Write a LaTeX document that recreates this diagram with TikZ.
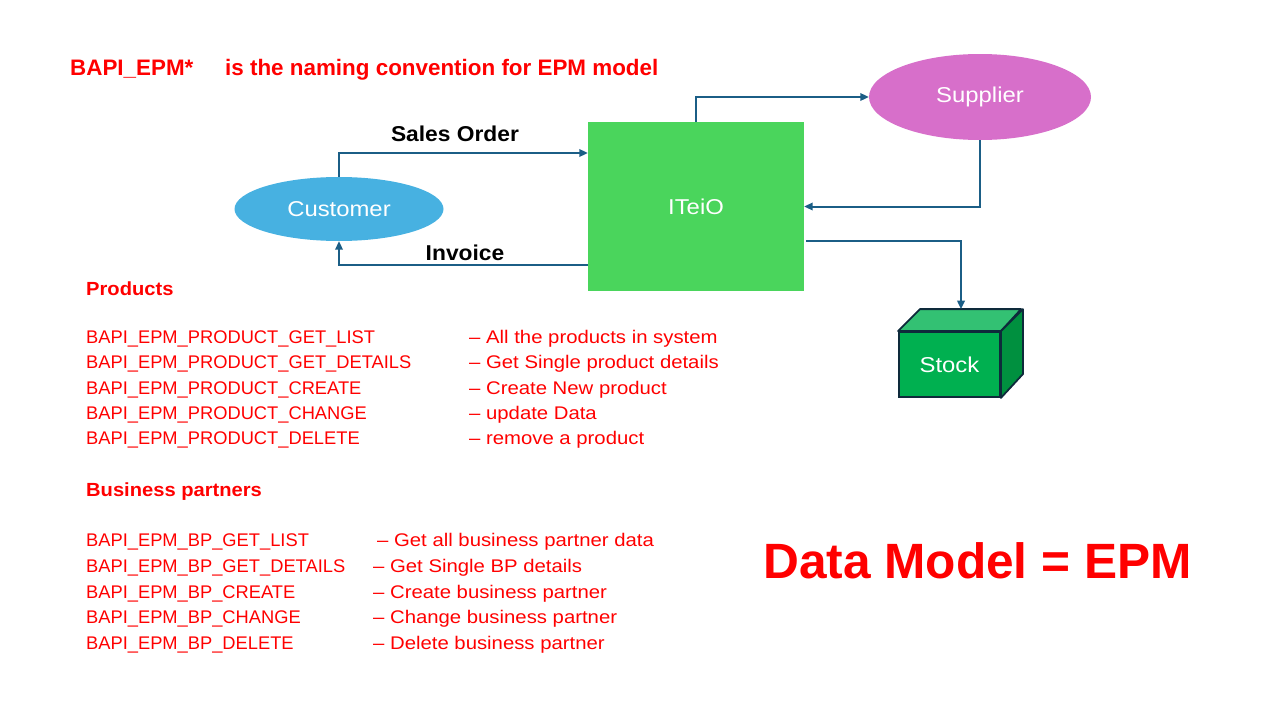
\documentclass[tikz,border=0pt]{standalone}
\usepackage{fontspec}
\setmainfont{Liberation Sans}
\newfontfamily\ancho[FakeStretch=1.11]{Liberation Sans}
\newfontfamily\medio[FakeStretch=1.06]{Liberation Sans}
\usetikzlibrary{arrows.meta,shapes.geometric}

\definecolor{flujo}{HTML}{1B5E86}
\definecolor{cliente}{HTML}{47B1E1}
\definecolor{sistema}{HTML}{4AD55C}
\definecolor{proveedor}{HTML}{D76FCA}
\definecolor{cajafrente}{HTML}{00B050}
\definecolor{cajaarriba}{HTML}{33C173}
\definecolor{cajalado}{HTML}{00903F}
\definecolor{borde}{HTML}{0E2A3B}

\tikzset{
  flow/.style={draw=flujo, line width=2pt, -{Triangle[length=8.5pt,width=7.5pt]}},
  txt/.style={anchor=base west, text=red, inner sep=0pt, font=\fontsize{18.3}{20}\selectfont},
  desc/.style={txt, font=\ancho\fontsize{18.3}{20}\selectfont},
  head/.style={anchor=base west, text=red, inner sep=0pt, font=\medio\fontsize{19}{22}\selectfont\bfseries},
  etiq/.style={font=\medio\fontsize{21.5}{24}\selectfont\bfseries, inner sep=0pt},
  blanco/.style={text=white, font=\ancho\fontsize{21.5}{24}\selectfont},
}

\begin{document}
\begin{tikzpicture}[x=1pt, y=-1pt]
        \useasboundingbox (0,0) rectangle (1280,720);

        % titulo
        \node[head, font=\fontsize{22.4}{26}\selectfont\bfseries] (bapi) at (70,75) {BAPI\_EPM*};
        \node[head, font=\fontsize{22.4}{26}\selectfont\bfseries] (conv) at (225,75) {is the naming convention for EPM model};

        % entidades
        \node[ellipse, fill=cliente, minimum width=209, minimum height=64, inner sep=0pt, blanco] (cust) at (339,209) {Customer};
        \node[rectangle, fill=sistema, minimum width=216, minimum height=169, inner sep=0pt, blanco] (itei) at (696,206.5) {ITeiO};
        \node[ellipse, fill=proveedor, minimum width=222, minimum height=86, inner sep=0pt, blanco] (sup) at (980,97) {Supplier};

        % stock (caja)
        \node[rectangle, fill=cajafrente, draw=borde, line width=1.8pt, minimum width=101, minimum height=65, inner sep=0pt, blanco] (stock) at (949.5,364.5) {Stock};
        \fill[cajaarriba, draw=borde, line width=1.8pt, line join=round] (stock.north west) -- ++(22,-22) -- ++(101,0) -- (stock.north east) -- cycle;
        \fill[cajalado, draw=borde, line width=1.8pt, line join=round] (stock.north east) -- ++(22,-22) -- ++(0,65) -- (stock.south east) -- cycle;
        \coordinate (stocktop) at ([shift={(11.5,-22)}]stock.north);

        % flujos
        \draw[flow] (cust.north) |- ([yshift=53.5pt]itei.west);
        \draw[flow] ([yshift=-58.5pt]itei.west) -| (cust.south);
        \draw[flow] (itei.north) |- (sup.west);
        \draw[flow] (sup.south) |- (itei.east);
        \draw[flow] ([xshift=2pt,yshift=-34.5pt]itei.east) -| (stocktop);

        \node[etiq] (so) at (455,134) {Sales Order};
        \node[etiq] (inv) at (465,253) {Invoice};

        % productos
        \node[head] (prod) at (86,295) {Products};
        \foreach \nom/\des [count=\i] in {%
            BAPI\_EPM\_PRODUCT\_GET\_LIST/All the products in system,
            BAPI\_EPM\_PRODUCT\_GET\_DETAILS/Get Single product details,
            BAPI\_EPM\_PRODUCT\_CREATE/Create New product,
            BAPI\_EPM\_PRODUCT\_CHANGE/update Data,
            BAPI\_EPM\_PRODUCT\_DELETE/remove a product}{
          \node[txt] (pn\i) at (86,{343.5+(\i-1)*25.3}) {\nom};
          \node[desc] (pd\i) at (469,{343.5+(\i-1)*25.3}) {– \des};
        }

        % business partners
        \node[head] (bp) at (86,496) {Business partners};
        \foreach \nom/\des/\xd [count=\i] in {%
            BAPI\_EPM\_BP\_GET\_LIST/Get all business partner data/377,
            BAPI\_EPM\_BP\_GET\_DETAILS/Get Single BP details/373,
            BAPI\_EPM\_BP\_CREATE/Create business partner/373,
            BAPI\_EPM\_BP\_CHANGE/Change business partner/373,
            BAPI\_EPM\_BP\_DELETE/Delete business partner/373}{
          \node[txt] (bn\i) at (86,{546.5+(\i-1)*25.75}) {\nom};
          \node[desc] (bd\i) at (\xd,{546.5+(\i-1)*25.75}) {– \des};
        }

        % modelo
        \node[head, font=\fontsize{49.6}{56}\selectfont\bfseries] (model) at (763,578) {Data Model = EPM};

\end{tikzpicture}
\end{document}
